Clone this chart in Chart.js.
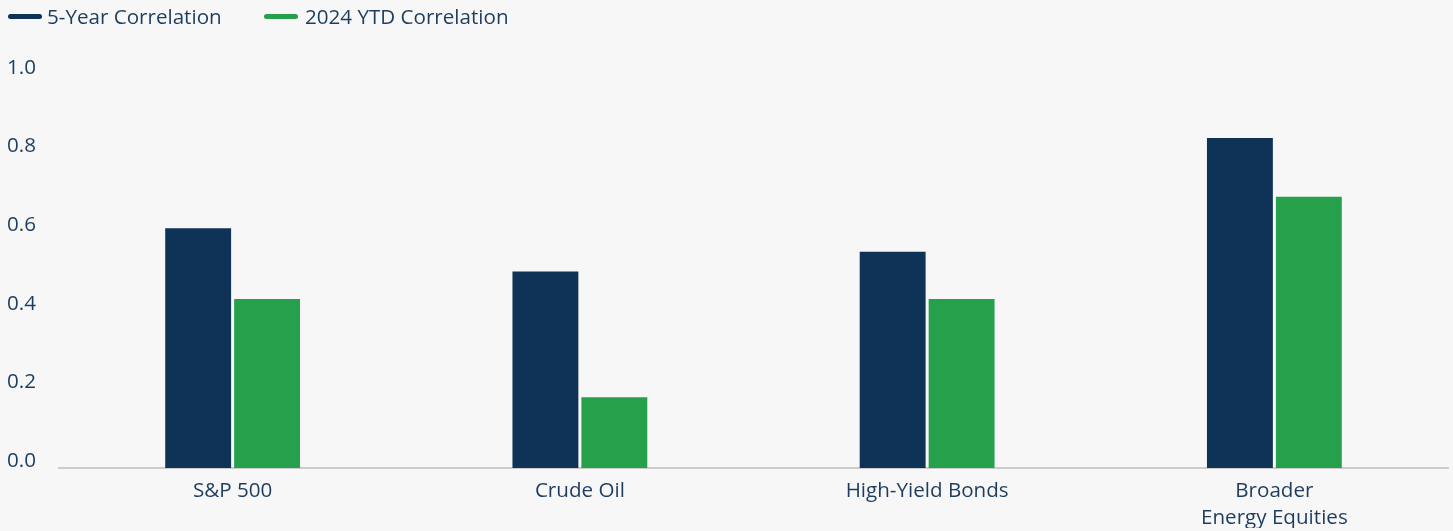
<!DOCTYPE html>
<html>
<head>
<meta charset="utf-8">
<script src="https://cdn.jsdelivr.net/npm/chart.js@4"></script>
<style>
  html, body { margin: 0; padding: 0; background: #f7f7f7; }
  #wrap { position: relative; width: 1453px; height: 531px; }
  .legend { position: absolute; top: 0; left: 0; font-family: "Open Sans", sans-serif; font-size: 20.6px; color: #1d3d5f; }
  .legend .item { position: absolute; top: 3px; white-space: nowrap; line-height: 27px; }
  .legend .mark { position: absolute; top: 14px; width: 34px; height: 5px; border-radius: 3px; }
</style>
</head>
<body>
<div id="wrap">
  <canvas id="chart" width="1453" height="531"></canvas>
  <div class="legend">
    <div class="mark" style="left:8px;background:#0f3356"></div>
    <div class="item" style="left:47px">5-Year Correlation</div>
    <div class="mark" style="left:264px;background:#27a04b"></div>
    <div class="item" style="left:305px">2024 YTD Correlation</div>
  </div>
</div>
<script>
const categories = ["S&P 500", "Crude Oil", "High-Yield Bonds", ["Broader", "Energy Equities"]];
const fiveYear = [0.61, 0.50, 0.55, 0.84];
const ytd2024 = [0.43, 0.18, 0.43, 0.69];
const yTicks = [0, 0.2, 0.4, 0.6, 0.8, 1.0];

const textColor = "#1d3d5f";

const ctx = document.getElementById("chart").getContext("2d");
new Chart(ctx, {
  type: "bar",
  data: {
    labels: categories,
    datasets: [
      { label: "5-Year Correlation", data: fiveYear, backgroundColor: "#0f3356" },
      { label: "2024 YTD Correlation", data: ytd2024, backgroundColor: "#27a04b" }
    ]
  },
  options: {
    responsive: false,
    animation: false,
    devicePixelRatio: 1,
    categoryPercentage: 0.397,
    barPercentage: 0.956,
    layout: { padding: { top: 75, left: 7, right: 5, bottom: 3 } },
    plugins: { legend: { display: false }, tooltip: { enabled: false } },
    scales: {
      x: {
        grid: { display: false, drawTicks: false },
        border: { display: true, color: "#cccccc", width: 2 },
        afterFit: scale => { scale.height = 60; },
        ticks: {
          color: textColor,
          padding: 9,
          font: { family: "Open Sans", size: 20.6, lineHeight: 1.33 },
          maxRotation: 0
        }
      },
      y: {
        min: 0,
        max: 1.0,
        grid: { display: false, drawTicks: false },
        border: { display: false },
        afterFit: scale => { scale.width = 52; },
        afterBuildTicks: scale => { scale.ticks = yTicks.map(v => ({ value: v })); },
        ticks: {
          color: textColor,
          crossAlign: "far",
          labelOffset: -7,
          font: { family: "Open Sans", size: 20.6 },
          callback: v => v.toFixed(1)
        }
      }
    }
  }
});
</script>
</body>
</html>
